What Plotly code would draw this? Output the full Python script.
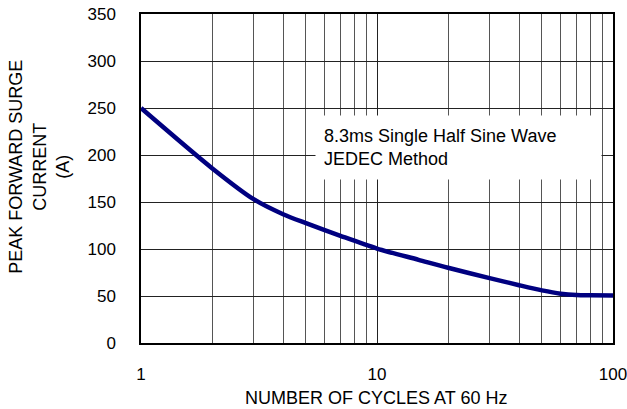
import plotly.graph_objects as go

cycles = [1, 2, 3, 4, 5, 7, 10, 15, 20, 30, 40, 50, 60, 70, 80, 100]
current = [250, 186, 153, 137, 127.5, 114, 100.5, 88.5, 80, 69, 61.5, 56, 52.5, 51, 50.7, 50.5]

x_tickvals = [1, 10, 100]
x_ticktext = ["1", "10", "100"]
x_minor = [2, 3, 4, 5, 6, 7, 8, 9, 20, 30, 40, 50, 60, 70, 80, 90]
y_tickvals = [0, 50, 100, 150, 200, 250, 300, 350]

x_title = "NUMBER OF CYCLES AT 60 Hz"
y_title = "PEAK FORWARD SURGE<br>CURRENT<br>(A)"
note = "8.3ms Single Half Sine Wave<br>JEDEC Method"

FONT = "Liberation Sans, Arial, sans-serif"
FS = 18
TFS = 17
W, H = 627, 409
# plot area in pixels: left 141, right 613.5, top 14.3, bottom 343.3
L, R, T, B = 141, 627 - 613.5, 14.3, 409 - 343.3
pw, ph = W - L - R, H - T - B

fig = go.Figure()
fig.add_trace(go.Scatter(
    x=cycles, y=current, mode="lines",
    line=dict(color="#000080", width=4.5, shape="spline", smoothing=0.8),
    showlegend=False, hoverinfo="skip"))

fig.update_layout(
    width=W, height=H,
    margin=dict(l=L, r=R, t=T, b=B, pad=0),
    paper_bgcolor="white", plot_bgcolor="white",
    font=dict(family=FONT, size=FS, color="black"),
    xaxis=dict(
        type="log", range=[0, 2], tickvals=x_tickvals, ticktext=x_ticktext,
        tickfont=dict(size=TFS),
        showgrid=True, gridcolor="#222", gridwidth=1,
        minor=dict(tickvals=x_minor, showgrid=True, gridcolor="#555", gridwidth=1),
        showline=True, linecolor="black", linewidth=1.5, mirror=True,
        ticks="outside", ticklen=0, ticklabelstandoff=15, zeroline=False,
        automargin=False, ticklabeloverflow="allow",
    ),
    yaxis=dict(
        range=[0, 350], tickvals=y_tickvals,
        tickfont=dict(size=TFS),
        showgrid=True, gridcolor="#222", gridwidth=1,
        showline=True, linecolor="black", linewidth=1.5, mirror=True,
        ticks="outside", ticklen=0, ticklabelstandoff=20, zeroline=False,
        automargin=False, ticklabeloverflow="allow",
    ),
)


def px_x(p):
    # pixel -> paper coordinate
    return (p - L) / pw


def px_y(p):
    return (H - B - p) / ph


fig.add_annotation(
    text=note, xref="paper", yref="paper",
    x=px_x(315), y=px_y(115), xanchor="left", yanchor="top",
    showarrow=False, align="left", valign="middle",
    width=269, height=47, borderpad=8, bgcolor="white",
    font=dict(family=FONT, size=FS, color="black"))

fig.add_annotation(
    text=y_title, xref="paper", yref="paper",
    x=px_x(40), y=px_y(167), xanchor="center", yanchor="middle",
    textangle=-90, showarrow=False, align="center",
    font=dict(family=FONT, size=FS, color="black"))

fig.add_annotation(
    text=x_title, xref="paper", yref="paper",
    x=px_x(376), y=px_y(398), xanchor="center", yanchor="middle",
    showarrow=False,
    font=dict(family=FONT, size=FS, color="black"))

fig.write_html("out.html", config={"displayModeBar": False},
               post_script="document.body.style.margin='0px';")
